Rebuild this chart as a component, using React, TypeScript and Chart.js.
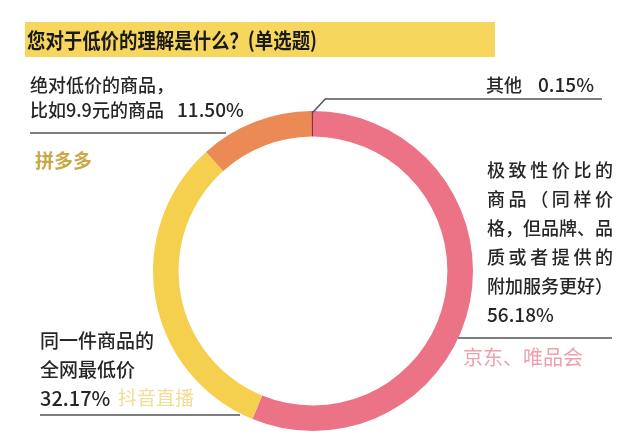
import React, { useEffect, useRef } from "react";
import { Chart, registerables } from "chart.js";

Chart.register(...registerables);

const title = "您对于低价的理解是什么？(单选题)";
const categories = ["极致性价比的商品", "同一件商品的全网最低价", "绝对低价的商品", "其他"];
const values = [56.18, 32.17, 11.5, 0.15];
const colors = ["#ec7386", "#f5d04e", "#ec8a56", "#9a2a2e"];
const platforms = ["京东、唯品会", "抖音直播", "拼多多", ""];
const pinkLabelLines = ["极致性价比的", "商品（同样价", "格，但品牌、品", "质或者提供的", "附加服务更好）"];
const yellowLabelLines = ["同一件商品的", "全网最低价"];
const orangeLabelLines = ["绝对低价的商品，", "比如9.9元的商品"];
const otherLabel = "其他";

const FONT = '"Noto Sans CJK SC", "Noto Sans", sans-serif';
const pct = (v: number) => v.toFixed(2) + "%";

function drawJustified(ctx: CanvasRenderingContext2D, text: string, x0: number, x1: number, y: number) {
  const chars = Array.from(text);
  const widths = chars.map((c) => ctx.measureText(c).width);
  const total = widths.reduce((a, b) => a + b, 0);
  const gap = chars.length > 1 ? (x1 - x0 - total) / (chars.length - 1) : 0;
  let x = x0;
  ctx.textAlign = "left";
  chars.forEach((c, i) => {
    ctx.fillText(c, x, y);
    x += widths[i] + gap;
  });
}

function drawFit(ctx: CanvasRenderingContext2D, text: string, x: number, y: number, w: number) {
  const m = ctx.measureText(text).width;
  ctx.save();
  ctx.translate(x, y);
  ctx.scale(w / m, 1);
  ctx.textAlign = "left";
  ctx.fillText(text, 0, 0);
  ctx.restore();
}

const overlay = {
  id: "overlay",
  beforeDraw(chart: any) {
    const ctx = chart.ctx as CanvasRenderingContext2D;
    ctx.save();
    ctx.fillStyle = "#ffffff";
    ctx.fillRect(0, 0, chart.width, chart.height);
    ctx.fillStyle = "#f6d65c";
    ctx.fillRect(25, 22, 470, 35);
    ctx.fillStyle = "#1a1a1a";
    ctx.font = `bold 21px ${FONT}`;
    ctx.textBaseline = "middle";
    drawFit(ctx, title, 27, 40, 290);
    ctx.restore();
  },
  afterDraw(chart: any) {
    const ctx = chart.ctx as CanvasRenderingContext2D;
    const meta = chart.getDatasetMeta(0);
    const other = meta.data[3];
    ctx.save();
    ctx.textBaseline = "middle";
    ctx.strokeStyle = "#555555";
    ctx.lineWidth = 1.5;

    // other leader
    const a = (other.startAngle + other.endAngle) / 2;
    const sx = other.x + Math.cos(a) * other.outerRadius;
    const sy = other.y + Math.sin(a) * other.outerRadius;
    ctx.beginPath();
    ctx.moveTo(sx, sy + 2);
    ctx.lineTo(sx + 13, 99);
    ctx.lineTo(602, 99);
    ctx.stroke();

    // orange leader
    ctx.beginPath();
    ctx.moveTo(30, 133);
    ctx.lineTo(226, 133);
    ctx.stroke();

    // pink underline
    ctx.beginPath();
    ctx.moveTo(458, 338);
    ctx.lineTo(612, 338);
    ctx.stroke();

    // yellow underline
    ctx.beginPath();
    ctx.moveTo(40, 415);
    ctx.lineTo(240, 415);
    ctx.stroke();

    ctx.fillStyle = "#262626";
    ctx.textAlign = "left";
    ctx.font = `500 18px ${FONT}`;
    ctx.fillText(otherLabel, 486, 85);
    ctx.font = `500 19px ${FONT}`;
    ctx.textAlign = "right";
    ctx.fillText(pct(values[3]), 594, 85);
    ctx.textAlign = "left";

    ctx.font = `500 18px ${FONT}`;
    ctx.fillText(orangeLabelLines[0], 30, 85);
    ctx.fillText(orangeLabelLines[1], 30, 110);
    ctx.font = `500 19px ${FONT}`;
    ctx.fillText(pct(values[2]), 177, 110);

    ctx.font = `500 19px ${FONT}`;
    yellowLabelLines.forEach((t, i) => ctx.fillText(t, 40, 341 + i * 29));
    ctx.font = `500 20px ${FONT}`;
    ctx.fillText(pct(values[1]), 40, 398);

    ctx.font = `500 18px ${FONT}`;
    const ys = [170, 199, 228, 257, 286];
    pinkLabelLines.forEach((t, i) => drawJustified(ctx, t, 487, 613, ys[i]));
    ctx.textAlign = "left";
    ctx.font = `500 19px ${FONT}`;
    ctx.fillText(pct(values[0]), 487, 315);

    ctx.font = `bold 19px ${FONT}`;
    ctx.fillStyle = "#c9a847";
    ctx.fillText(platforms[2], 35, 161);
    ctx.font = `19px ${FONT}`;
    ctx.fillStyle = "#f0dd96";
    ctx.fillText(platforms[1], 118, 398);
    ctx.font = `20px ${FONT}`;
    ctx.fillStyle = "#efa0ae";
    ctx.fillText(platforms[0], 463, 357);
    ctx.restore();
  },
};

export default function App() {
  const ref = useRef<HTMLCanvasElement>(null);
  useEffect(() => {
    if (!ref.current) return;
    const chart = new Chart(ref.current, {
      type: "doughnut",
      data: {
        labels: categories,
        datasets: [
          {
            data: values,
            backgroundColor: colors,
            borderWidth: 0,
            hoverOffset: 0,
            offset: 0,
          },
        ],
      },
      options: {
        responsive: false,
        animation: false,
        cutout: "84%",
        rotation: 0,
        layout: { padding: { left: 153, right: 167, top: 111, bottom: 8 } },
        plugins: { legend: { display: false }, tooltip: { enabled: false }, title: { display: false } },
        events: [],
      },
      plugins: [overlay],
    });
    return () => chart.destroy();
  }, []);
  return (
    <div style={{ position: "fixed", left: 0, top: 0, width: 640, height: 439, background: "#fff" }}>
      <canvas ref={ref} width={640} height={439} style={{ width: 640, height: 439, display: "block" }} />
    </div>
  );
}
